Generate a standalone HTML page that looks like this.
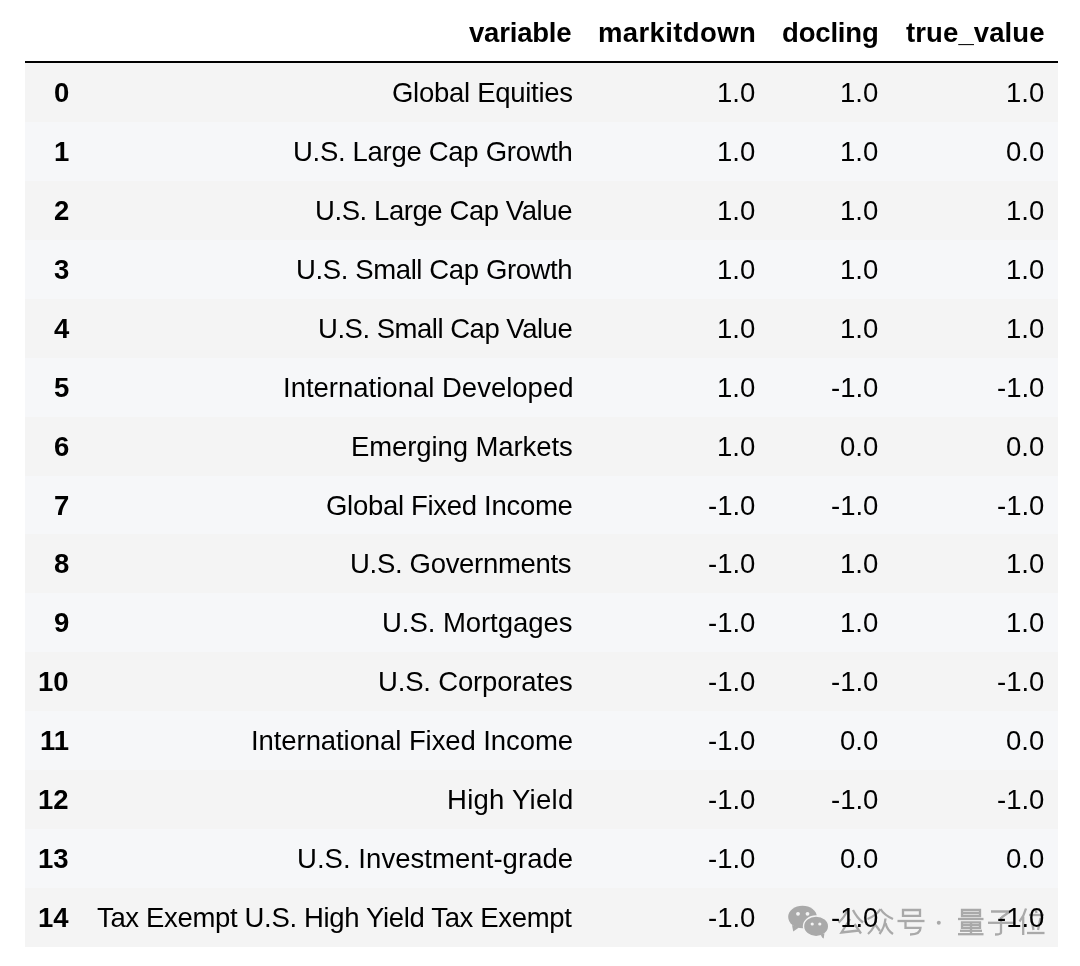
<!DOCTYPE html>
<html><head><meta charset="utf-8"><style>
html,body{margin:0;padding:0;background:#fff;width:1080px;height:966px;overflow:hidden}
body{font-family:"Liberation Sans",sans-serif;color:#000;position:relative}
.hd{position:absolute;left:25px;top:0;width:1033px;height:61px;border-bottom:2px solid #000}
.row{position:absolute;left:25px;width:1033px;height:58.93px}
.row.a{background:#f4f4f4}
.row.b{background:#f6f7f9}
span{position:absolute;white-space:nowrap;will-change:transform;font-size:27.5px;z-index:2}
.hd span{top:2px;line-height:61px;font-weight:700}
.row span{top:1px;line-height:58.93px}
.ix{font-weight:700}
svg.wm{position:absolute;left:0;top:0;z-index:1}
</style></head><body>
<div class="hd"><span class="h" style="right:486.20px;letter-spacing:-0.200px">variable</span><span class="h" style="right:302.20px;letter-spacing:0.378px">markitdown</span><span class="h" style="right:179.20px;letter-spacing:-0.167px">docling</span><span class="h" style="right:13.20px;letter-spacing:0.111px">true_value</span></div>
<div class="row a" style="top:63.00px"><span class="ix" style="right:989.00px">0</span><span class="v" style="right:485.60px;letter-spacing:-0.286px">Global Equities</span><span class="v" style="right:303.00px">1.0</span><span class="v" style="right:180.00px">1.0</span><span class="v" style="right:14.00px">1.0</span></div>
<div class="row b" style="top:121.93px"><span class="ix" style="right:989.00px">1</span><span class="v" style="right:485.60px;letter-spacing:-0.300px">U.S. Large Cap Growth</span><span class="v" style="right:303.00px">1.0</span><span class="v" style="right:180.00px">1.0</span><span class="v" style="right:14.00px">0.0</span></div>
<div class="row a" style="top:180.86px"><span class="ix" style="right:989.00px">2</span><span class="v" style="right:485.60px;letter-spacing:-0.421px">U.S. Large Cap Value</span><span class="v" style="right:303.00px">1.0</span><span class="v" style="right:180.00px">1.0</span><span class="v" style="right:14.00px">1.0</span></div>
<div class="row b" style="top:239.79px"><span class="ix" style="right:989.00px">3</span><span class="v" style="right:485.60px;letter-spacing:-0.380px">U.S. Small Cap Growth</span><span class="v" style="right:303.00px">1.0</span><span class="v" style="right:180.00px">1.0</span><span class="v" style="right:14.00px">1.0</span></div>
<div class="row a" style="top:298.72px"><span class="ix" style="right:989.00px">4</span><span class="v" style="right:485.60px;letter-spacing:-0.484px">U.S. Small Cap Value</span><span class="v" style="right:303.00px">1.0</span><span class="v" style="right:180.00px">1.0</span><span class="v" style="right:14.00px">1.0</span></div>
<div class="row b" style="top:357.65px"><span class="ix" style="right:989.00px">5</span><span class="v" style="right:484.60px;letter-spacing:0.000px">International Developed</span><span class="v" style="right:303.00px">1.0</span><span class="v" style="right:180.00px">-1.0</span><span class="v" style="right:14.00px">-1.0</span></div>
<div class="row a" style="top:416.58px"><span class="ix" style="right:989.00px">6</span><span class="v" style="right:485.60px;letter-spacing:-0.093px">Emerging Markets</span><span class="v" style="right:303.00px">1.0</span><span class="v" style="right:180.00px">0.0</span><span class="v" style="right:14.00px">0.0</span></div>
<div class="row b" style="top:475.51px"><span class="ix" style="right:989.00px">7</span><span class="v" style="right:485.60px;letter-spacing:-0.300px">Global Fixed Income</span><span class="v" style="right:303.00px">-1.0</span><span class="v" style="right:180.00px">-1.0</span><span class="v" style="right:14.00px">-1.0</span></div>
<div class="row a" style="top:534.44px"><span class="ix" style="right:989.00px">8</span><span class="v" style="right:486.60px;letter-spacing:-0.307px">U.S. Governments</span><span class="v" style="right:303.00px">-1.0</span><span class="v" style="right:180.00px">1.0</span><span class="v" style="right:14.00px">1.0</span></div>
<div class="row b" style="top:593.37px"><span class="ix" style="right:989.00px">9</span><span class="v" style="right:485.60px;letter-spacing:-0.046px">U.S. Mortgages</span><span class="v" style="right:303.00px">-1.0</span><span class="v" style="right:180.00px">1.0</span><span class="v" style="right:14.00px">1.0</span></div>
<div class="row a" style="top:652.30px"><span class="ix" style="right:989.00px">10</span><span class="v" style="right:485.60px;letter-spacing:-0.171px">U.S. Corporates</span><span class="v" style="right:303.00px">-1.0</span><span class="v" style="right:180.00px">-1.0</span><span class="v" style="right:14.00px">-1.0</span></div>
<div class="row b" style="top:711.23px"><span class="ix" style="right:989.00px">11</span><span class="v" style="right:484.60px;letter-spacing:-0.080px">International Fixed Income</span><span class="v" style="right:303.00px">-1.0</span><span class="v" style="right:180.00px">0.0</span><span class="v" style="right:14.00px">0.0</span></div>
<div class="row a" style="top:770.16px"><span class="ix" style="right:989.00px">12</span><span class="v" style="right:484.60px;letter-spacing:0.267px">High Yield</span><span class="v" style="right:303.00px">-1.0</span><span class="v" style="right:180.00px">-1.0</span><span class="v" style="right:14.00px">-1.0</span></div>
<div class="row b" style="top:829.09px"><span class="ix" style="right:989.00px">13</span><span class="v" style="right:484.60px;letter-spacing:0.050px">U.S. Investment-grade</span><span class="v" style="right:303.00px">-1.0</span><span class="v" style="right:180.00px">0.0</span><span class="v" style="right:14.00px">0.0</span></div>
<div class="row a" style="top:888.02px"><span class="ix" style="right:989.00px">14</span><span class="v" style="right:486.60px;letter-spacing:-0.339px">Tax Exempt U.S. High Yield Tax Exempt</span><span class="v" style="right:303.00px">-1.0</span><span class="v" style="right:180.00px">-1.0</span><span class="v" style="right:14.00px">-1.0</span></div>
<svg class="wm" width="1080" height="966" viewBox="0 0 1080 966">
<g fill="#a9a9a9">
<ellipse cx="802.5" cy="917" rx="14.3" ry="11.2"/>
<path d="M792,925 L793.2,931.5 L799,927.5 Z"/>
</g>
<g fill="#f4f4f4"><circle cx="798" cy="913.8" r="1.9"/><circle cx="807.5" cy="913.8" r="1.9"/></g>
<path d="M819.5,934.5 L823.4,938.4 L824.8,932.5 Z" fill="#a9a9a9"/>
<ellipse cx="816.1" cy="926.3" rx="12.6" ry="10.3" fill="#a9a9a9" stroke="#f4f4f4" stroke-width="1.4"/>
<path d="M820.3,934.6 L823.4,938.4 L824.5,933.2 Z" fill="#a9a9a9"/>
<g fill="#f4f4f4"><circle cx="812.2" cy="924" r="1.6"/><circle cx="819.8" cy="924" r="1.6"/></g>
<g fill="none" stroke="#a9a9a9" stroke-width="2.3" stroke-linecap="butt" stroke-linejoin="miter">
<g transform="translate(838,909)">
<path d="M9.5,0.5 Q7,8 0.5,13.5"/><path d="M15,1 Q19,9 25,13.5"/><path d="M12,10 L3.5,23.5 L21,21.5"/><path d="M16.5,15 L23,24.5"/>
</g>
<g transform="translate(867,909)">
<path d="M13.5,0 Q10,6 0.5,10"/><path d="M13.5,0 Q17,6 26,10"/><path d="M9,9.5 Q8,19 1,25"/><path d="M8.5,16 L13,22"/><path d="M18.5,9.5 Q17.5,19 12.5,25"/><path d="M18.5,14 Q20,21 26,25"/>
</g>
<path d="M903,910 H920 V915.8 H903 Z"/><path d="M897.5,921 H924.5"/><path d="M905.5,921 V927.8 H920.5 Q920.5,934.5 910,934.5"/>
<path d="M962,910 H980 V916 H962 Z"/><path d="M962,913 H980"/><path d="M958,919 H983.5"/><path d="M962,922.3 H980 V927.8 H962 Z"/><path d="M962,925 H980"/><path d="M971,922.3 V934"/><path d="M960,930.8 H982"/><path d="M958,934.2 H983.5"/>
<path d="M991,911.5 H1010 L1001.5,917.5"/><path d="M1001,917 V932.5 Q1001,934.5 995,934.5"/><path d="M988,922.8 H1014"/>
<path d="M1026,908.5 Q1024,916 1019.5,921.5"/><path d="M1023.2,916.5 V935"/><path d="M1035.5,909.5 L1036.5,913"/><path d="M1029,915 H1044"/><path d="M1031.5,919 L1033.5,930"/><path d="M1040.5,918 L1038,930"/><path d="M1027,933 H1044.5"/>
</g>
<circle cx="938.8" cy="922.7" r="2" fill="#a9a9a9"/>
</svg>
</body></html>
